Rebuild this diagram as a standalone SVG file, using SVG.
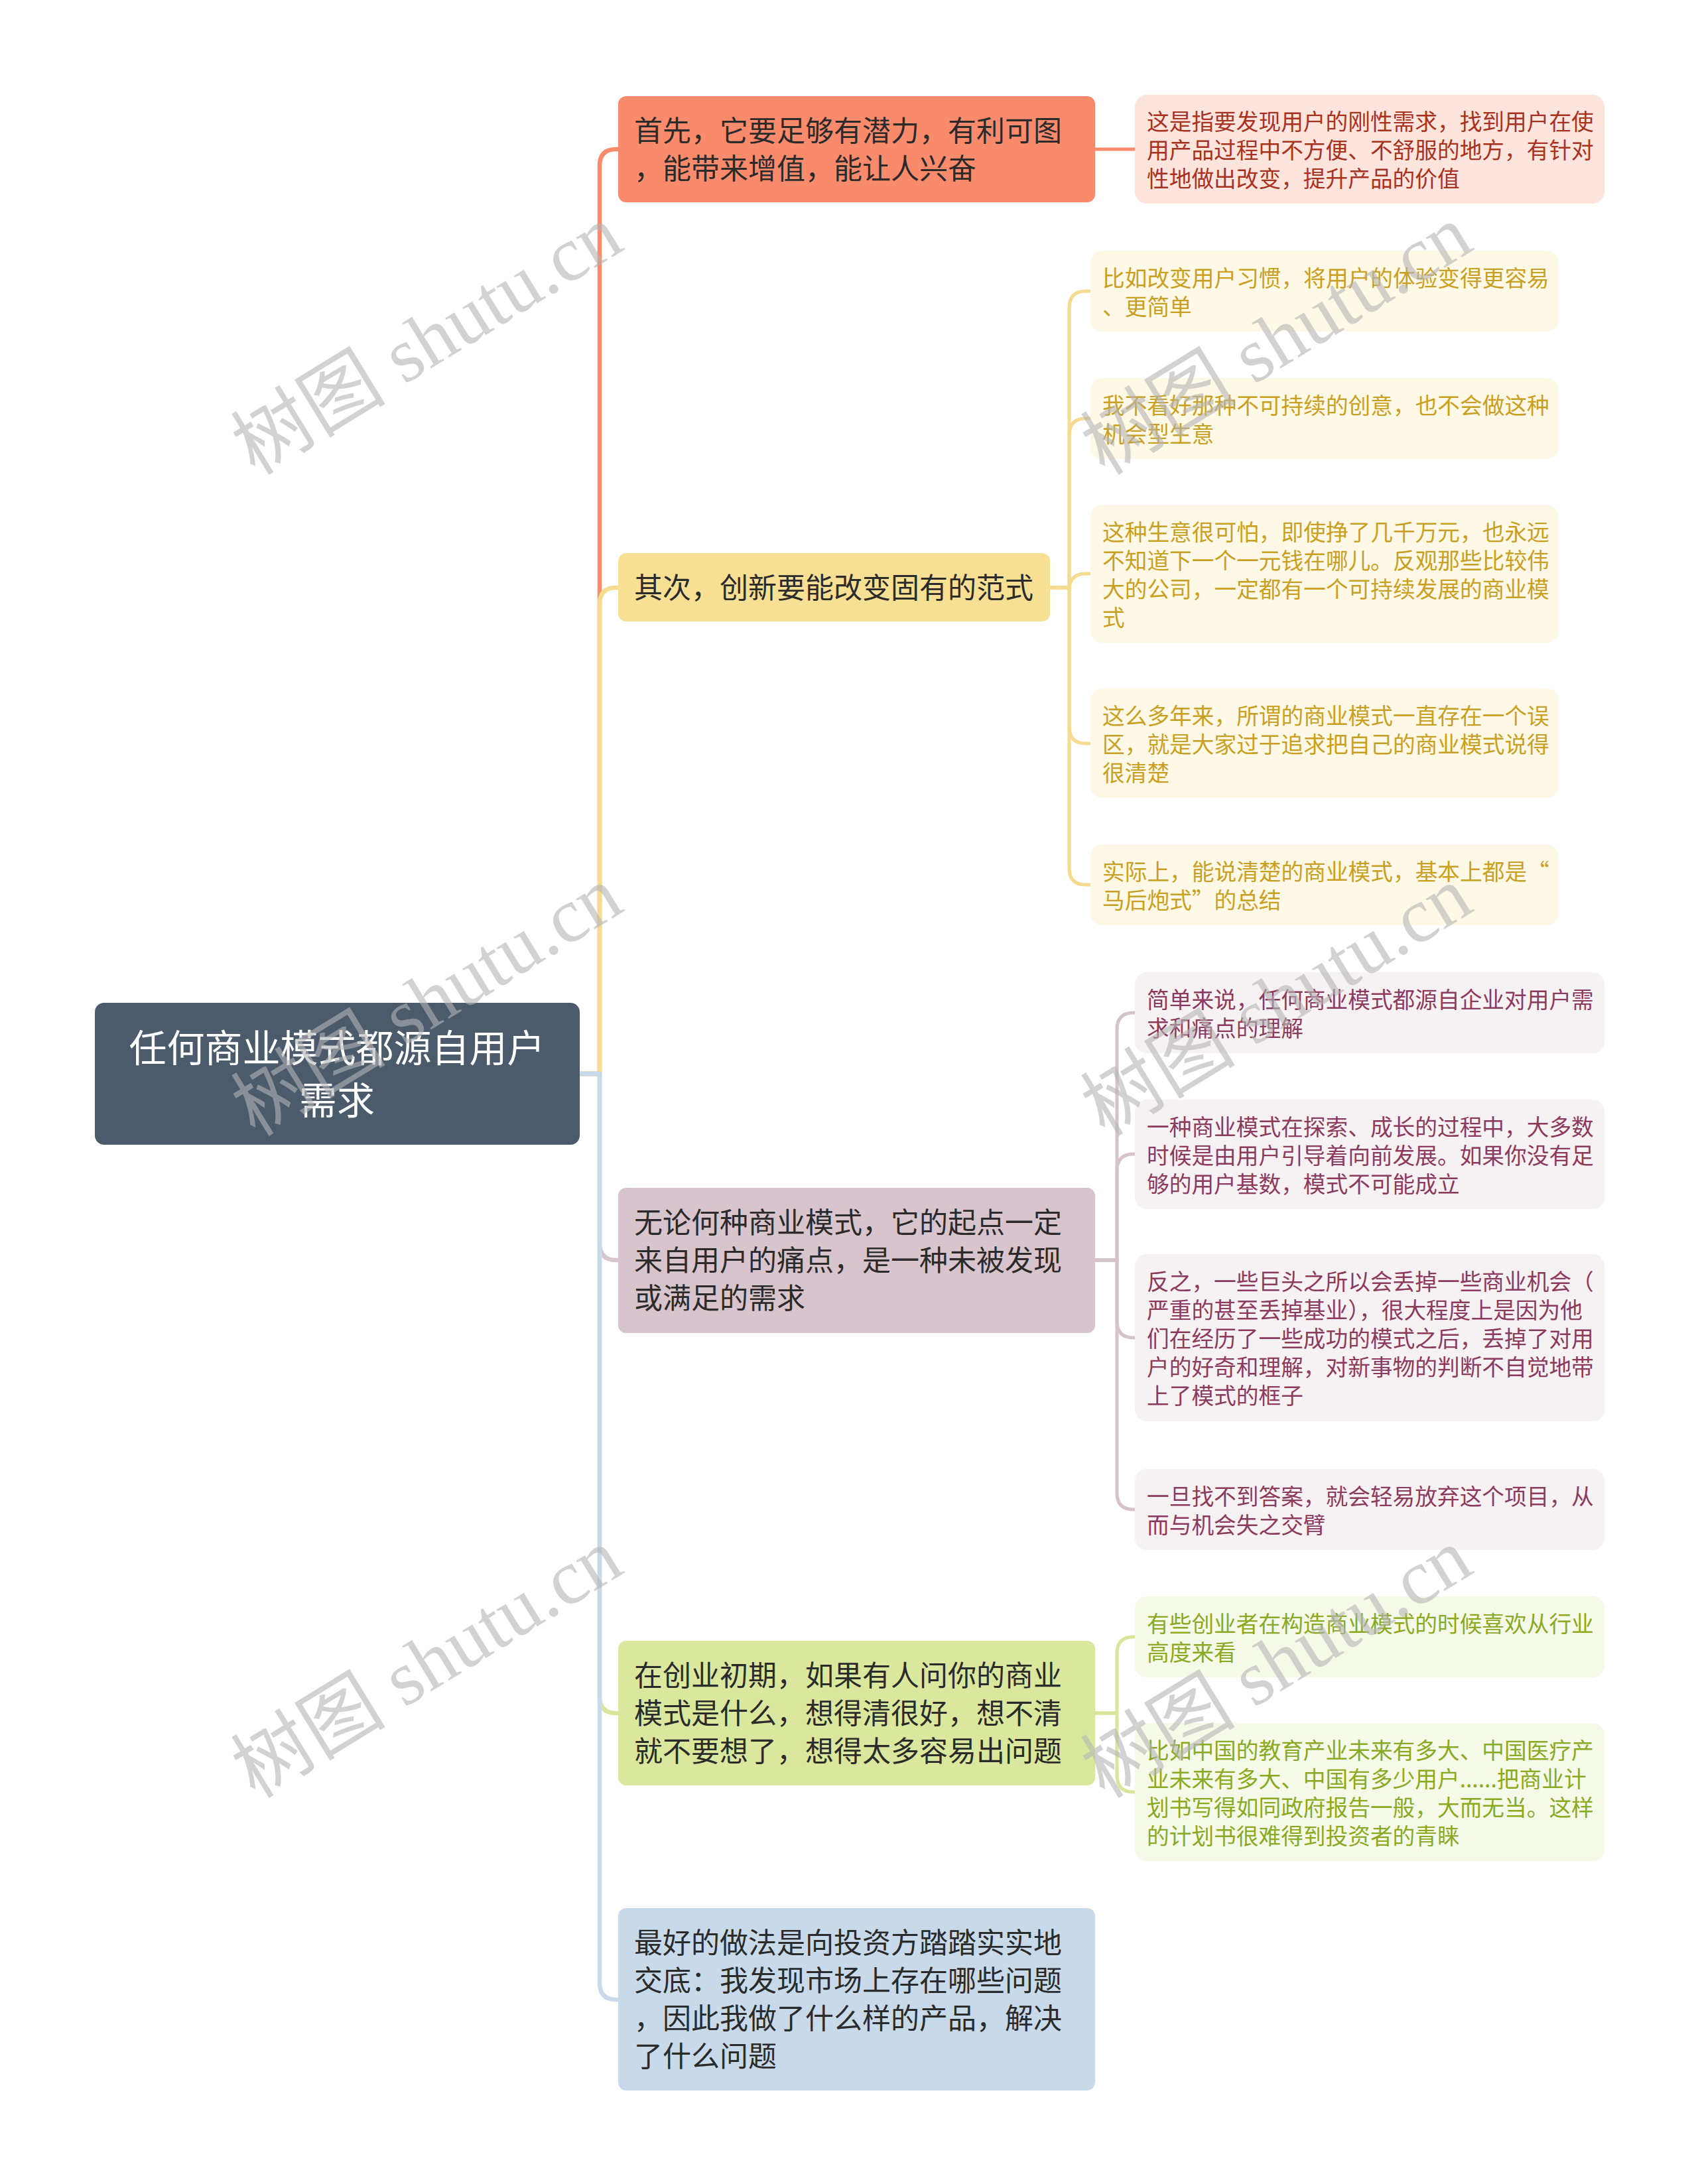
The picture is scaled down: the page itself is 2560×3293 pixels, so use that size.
<svg xmlns="http://www.w3.org/2000/svg" width="2560" height="3293" viewBox="0 0 2560 3293">
<style>
text{font-family:"Noto Sans CJK SC","Noto Sans",sans-serif}
.l1{font-size:43px;fill:#2b2b2b}
.l2{font-size:33.7px}
.root{font-size:57px;fill:#ffffff}
.c{fill:none;stroke-linecap:round;stroke-linejoin:round}
.trunk{stroke-width:6.5}
.sub{stroke-width:5}
.wm{font-family:"Liberation Serif","Noto Sans CJK SC",serif;font-size:117px;fill:#b4b4b4;fill-opacity:0.6}
</style>
<rect width="2560" height="3293" fill="#ffffff"/>
<g id="connectors">
<path class="c trunk" stroke="#F98A6B" d="M874,1619 H904 V250 Q904,225 929,225 H934"/>
<path class="c trunk" stroke="#F6DC8E" d="M874,1619 H904 V911 Q904,886 929,886 H934"/>
<path class="c trunk" stroke="#D8C4CC" d="M874,1619 H904 V1875 Q904,1900 929,1900 H934"/>
<path class="c trunk" stroke="#D7E69A" d="M874,1619 H904 V2558 Q904,2583 929,2583 H934"/>
<path class="c trunk" stroke="#C8D9EA" d="M874,1619 H904 V2990 Q904,3015 929,3015 H934"/>
<path class="c sub" stroke="#F98A6B" d="M1651,225 H1712"/>
<g stroke="#F5DB8D">
<path class="c sub" d="M1583,886 H1612 V464 Q1612,439 1637,439 H1646"/>
<path class="c sub" d="M1583,886 H1612 V656 Q1612,631 1637,631 H1646"/>
<path class="c sub" d="M1583,886 H1612 V890 Q1612,865 1637,865 H1646"/>
<path class="c sub" d="M1583,886 H1612 V1096 Q1612,1121 1637,1121 H1646"/>
<path class="c sub" d="M1583,886 H1612 V1309 Q1612,1334 1637,1334 H1646"/>
</g>
<g stroke="#D6C3CA">
<path class="c sub" d="M1651,1900 H1684 V1552 Q1684,1527 1709,1527 H1714"/>
<path class="c sub" d="M1651,1900 H1684 V1765 Q1684,1740 1709,1740 H1714"/>
<path class="c sub" d="M1651,1900 H1684 V1992 Q1684,2017 1709,2017 H1714"/>
<path class="c sub" d="M1651,1900 H1684 V2251 Q1684,2276 1709,2276 H1714"/>
</g>
<g stroke="#D7E69A">
<path class="c sub" d="M1651,2583 H1684 V2493 Q1684,2468 1709,2468 H1714"/>
<path class="c sub" d="M1651,2583 H1684 V2677 Q1684,2702 1709,2702 H1714"/>
</g>
</g>
<g id="root">
<rect x="143" y="1512" width="731" height="214" rx="14" fill="#4B5B6B"/>
<text class="root" x="508" y="1601" text-anchor="middle">任何商业模式都源自用户</text>
<text class="root" x="508" y="1680" text-anchor="middle">需求</text>
</g>
<g id="n1">
<rect x="932" y="145" width="719" height="160" rx="12" fill="#F98A6B"/>
<text class="l1" x="956" y="213">首先，它要足够有潜力，有利可图</text>
<text class="l1" x="956" y="270">，能带来增值，能让人兴奋</text>
</g>
<g id="n1a">
<rect x="1711" y="143" width="708" height="164" rx="18" fill="#FDE4DD"/>
<g class="l2" fill="#A8321E">
<text x="1729" y="196">这是指要发现用户的刚性需求，找到用户在使</text>
<text x="1729" y="239">用产品过程中不方便、不舒服的地方，有针对</text>
<text x="1729" y="282">性地做出改变，提升产品的价值</text>
</g>
</g>
<g id="n2">
<rect x="932" y="834" width="651" height="103" rx="12" fill="#F7DF94"/>
<text class="l1" x="956" y="902">其次，创新要能改变固有的范式</text>
</g>
<g id="n2a">
<rect x="1644" y="378" width="706" height="122" rx="18" fill="#FEF8E7"/>
<g class="l2" fill="#C9A022">
<text x="1662" y="432">比如改变用户习惯，将用户的体验变得更容易</text>
<text x="1662" y="475">、更简单</text>
</g>
</g>
<g id="n2b">
<rect x="1644" y="570" width="706" height="122" rx="18" fill="#FEF8E7"/>
<g class="l2" fill="#C9A022">
<text x="1662" y="624">我不看好那种不可持续的创意，也不会做这种</text>
<text x="1662" y="667">机会型生意</text>
</g>
</g>
<g id="n2c">
<rect x="1644" y="761" width="706" height="208" rx="18" fill="#FEF8E7"/>
<g class="l2" fill="#C9A022">
<text x="1662" y="815">这种生意很可怕，即使挣了几千万元，也永远</text>
<text x="1662" y="858">不知道下一个一元钱在哪儿。反观那些比较伟</text>
<text x="1662" y="901">大的公司，一定都有一个可持续发展的商业模</text>
<text x="1662" y="944">式</text>
</g>
</g>
<g id="n2d">
<rect x="1644" y="1038" width="706" height="165" rx="18" fill="#FEF8E7"/>
<g class="l2" fill="#C9A022">
<text x="1662" y="1092">这么多年来，所谓的商业模式一直存在一个误</text>
<text x="1662" y="1135">区，就是大家过于追求把自己的商业模式说得</text>
<text x="1662" y="1178">很清楚</text>
</g>
</g>
<g id="n2e">
<rect x="1644" y="1273" width="706" height="122" rx="18" fill="#FEF8E7"/>
<g class="l2" fill="#C9A022">
<text x="1662" y="1327">实际上，能说清楚的商业模式，基本上都是“</text>
<text x="1662" y="1370">马后炮式”的总结</text>
</g>
</g>
<g id="n3">
<rect x="932" y="1791" width="719" height="219" rx="12" fill="#D8C4CC"/>
<text class="l1" x="956" y="1859">无论何种商业模式，它的起点一定</text>
<text class="l1" x="956" y="1916">来自用户的痛点，是一种未被发现</text>
<text class="l1" x="956" y="1973">或满足的需求</text>
</g>
<g id="n3a">
<rect x="1711" y="1466" width="708" height="122" rx="18" fill="#F6F1F3"/>
<g class="l2" fill="#8C3A5E">
<text x="1729" y="1520">简单来说，任何商业模式都源自企业对用户需</text>
<text x="1729" y="1563">求和痛点的理解</text>
</g>
</g>
<g id="n3b">
<rect x="1711" y="1658" width="708" height="165" rx="18" fill="#F6F1F3"/>
<g class="l2" fill="#8C3A5E">
<text x="1729" y="1712">一种商业模式在探索、成长的过程中，大多数</text>
<text x="1729" y="1755">时候是由用户引导着向前发展。如果你没有足</text>
<text x="1729" y="1798">够的用户基数，模式不可能成立</text>
</g>
</g>
<g id="n3c">
<rect x="1711" y="1891" width="708" height="252" rx="18" fill="#F6F1F3"/>
<g class="l2" fill="#8C3A5E">
<text x="1729" y="1945">反之，一些巨头之所以会丢掉一些商业机会（</text>
<text x="1729" y="1988">严重的甚至丢掉基业），很大程度上是因为他</text>
<text x="1729" y="2031">们在经历了一些成功的模式之后，丢掉了对用</text>
<text x="1729" y="2074">户的好奇和理解，对新事物的判断不自觉地带</text>
<text x="1729" y="2117">上了模式的框子</text>
</g>
</g>
<g id="n3d">
<rect x="1711" y="2215" width="708" height="122" rx="18" fill="#F6F1F3"/>
<g class="l2" fill="#8C3A5E">
<text x="1729" y="2269">一旦找不到答案，就会轻易放弃这个项目，从</text>
<text x="1729" y="2312">而与机会失之交臂</text>
</g>
</g>
<g id="n4">
<rect x="932" y="2474" width="719" height="218" rx="12" fill="#D9E89D"/>
<text class="l1" x="956" y="2542">在创业初期，如果有人问你的商业</text>
<text class="l1" x="956" y="2599">模式是什么，想得清很好，想不清</text>
<text class="l1" x="956" y="2656">就不要想了，想得太多容易出问题</text>
</g>
<g id="n4a">
<rect x="1711" y="2407" width="708" height="122" rx="18" fill="#F5F9E8"/>
<g class="l2" fill="#8AAA22">
<text x="1729" y="2461">有些创业者在构造商业模式的时候喜欢从行业</text>
<text x="1729" y="2504">高度来看</text>
</g>
</g>
<g id="n4b">
<rect x="1711" y="2598" width="708" height="208" rx="18" fill="#F5F9E8"/>
<g class="l2" fill="#8AAA22">
<text x="1729" y="2652">比如中国的教育产业未来有多大、中国医疗产</text>
<text x="1729" y="2695">业未来有多大、中国有多少用户......把商业计</text>
<text x="1729" y="2738">划书写得如同政府报告一般，大而无当。这样</text>
<text x="1729" y="2781">的计划书很难得到投资者的青睐</text>
</g>
</g>
<g id="n5">
<rect x="932" y="2877" width="719" height="275" rx="12" fill="#C8DAEA"/>
<text class="l1" x="956" y="2945">最好的做法是向投资方踏踏实实地</text>
<text class="l1" x="956" y="3002">交底：我发现市场上存在哪些问题</text>
<text class="l1" x="956" y="3059">，因此我做了什么样的产品，解决</text>
<text class="l1" x="956" y="3116">了什么问题</text>
</g>
<g id="watermarks">
<text class="wm" text-anchor="middle" transform="translate(645,515) rotate(-31.5)" y="37">树图 shutu.cn</text>
<text class="wm" text-anchor="middle" transform="translate(645,1512) rotate(-31.5)" y="37">树图 shutu.cn</text>
<text class="wm" text-anchor="middle" transform="translate(645,2510) rotate(-31.5)" y="37">树图 shutu.cn</text>
<text class="wm" text-anchor="middle" transform="translate(1926,515) rotate(-31.5)" y="37">树图 shutu.cn</text>
<text class="wm" text-anchor="middle" transform="translate(1926,1512) rotate(-31.5)" y="37">树图 shutu.cn</text>
<text class="wm" text-anchor="middle" transform="translate(1926,2510) rotate(-31.5)" y="37">树图 shutu.cn</text>
</g>
</svg>
